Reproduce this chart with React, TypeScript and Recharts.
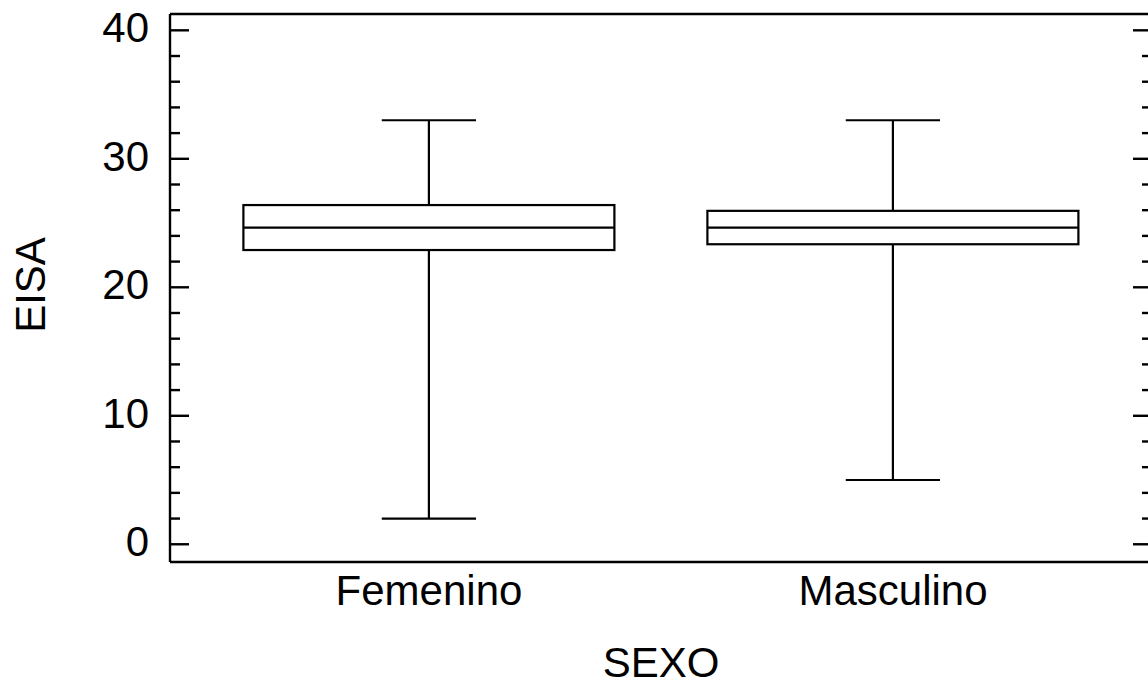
import React from 'react';
import { ComposedChart, Bar, XAxis, YAxis } from 'recharts';

const categories = ['Femenino', 'Masculino'];
const minValues = [2, 5];
const q1Values = [22.9, 23.35];
const medianValues = [24.65, 24.65];
const q3Values = [26.4, 25.95];
const maxValues = [33, 33];
const yTicks = [0, 2, 4, 6, 8, 10, 12, 14, 16, 18, 20, 22, 24, 26, 28, 30, 32, 34, 36, 38, 40];
const majorTicks = [0, 10, 20, 30, 40];

const FONT = '"Liberation Sans", Arial, sans-serif';

const data = categories.map((c, i) => ({
  category: c,
  min: minValues[i],
  q1: q1Values[i],
  median: medianValues[i],
  q3: q3Values[i],
  max: maxValues[i],
}));

const BoxShape = (props: any) => {
  const { x, y, width, height, payload } = props;
  const top = Math.min(y, y + height);
  const h = Math.abs(height);
  const { min, q1, median, q3, max } = payload;
  const pos = (v: number) => top + (h * (max - v)) / (max - min);
  const cx = x + width / 2;
  const capHalf = width * 0.127;
  const sw = 2.2;
  return (
    <g stroke="#000" strokeWidth={sw} fill="none">
      <line x1={cx} x2={cx} y1={pos(max)} y2={pos(q3)} />
      <line x1={cx} x2={cx} y1={pos(q1)} y2={pos(min)} />
      <line x1={cx - capHalf} x2={cx + capHalf} y1={pos(max)} y2={pos(max)} />
      <line x1={cx - capHalf} x2={cx + capHalf} y1={pos(min)} y2={pos(min)} />
      <rect x={x} y={pos(q3)} width={width} height={pos(q1) - pos(q3)} fill="#fff" />
      <line x1={x} x2={x + width} y1={pos(median)} y2={pos(median)} />
    </g>
  );
};

const LeftTick = (props: any) => {
  const { x, y, payload } = props;
  const major = majorTicks.includes(payload.value);
  const len = major ? 19 : 10;
  return (
    <g>
      <line x1={x} x2={x + len} y1={y} y2={y} stroke="#000" strokeWidth={2.4} />
      {major && (
        <text x={x - 21} y={y} dy={12} textAnchor="end" fontSize={42} fontFamily={FONT} fill="#000">
          {payload.value}
        </text>
      )}
    </g>
  );
};

const RightTick = (props: any) => {
  const { x, y, payload } = props;
  const major = majorTicks.includes(payload.value);
  const len = major ? 19 : 10;
  return <line x1={x} x2={x - len} y1={y} y2={y} stroke="#000" strokeWidth={2.4} />;
};

const YLabel = (props: any) => {
  const vb = props.viewBox || { x: 0, y: 14, width: 170, height: 548 };
  const lx = vb.x + 45;
  const ly = vb.y + vb.height / 2 - 3;
  return (
    <text
      x={lx}
      y={ly}
      textAnchor="middle"
      transform={`rotate(-90, ${lx}, ${ly})`}
      fontSize={42}
      fontFamily={FONT}
      fill="#000"
    >
      EISA
    </text>
  );
};

export default function App() {
  return (
    <div
      style={{
        position: 'fixed',
        left: 0,
        top: 0,
        width: 1148,
        height: 687,
        overflow: 'hidden',
        background: '#fff',
      }}
    >
      <ComposedChart
        width={1160}
        height={687}
        data={data}
        margin={{ top: 14, right: 8, bottom: 0, left: 0 }}
        barCategoryGap="10%"
      >
        <XAxis
          dataKey="category"
          height={125}
          padding={{ left: 27, right: 27 }}
          tickLine={false}
          tickSize={0}
          tickMargin={13}
          axisLine={{ stroke: '#000', strokeWidth: 2.4 }}
          tick={{ fontSize: 42, fill: '#000', fontFamily: FONT }}
          label={{ value: 'SEXO', position: 'insideBottom', offset: 10, fontSize: 42, fill: '#000', fontFamily: FONT }}
        />
        <XAxis
          xAxisId="top"
          dataKey="category"
          orientation="top"
          mirror
          tick={false}
          tickLine={false}
          axisLine={{ stroke: '#000', strokeWidth: 2.4 }}
        />
        <YAxis
          width={170}
          type="number"
          domain={[-1.38, 41.27]}
          allowDataOverflow
          ticks={yTicks}
          interval={0}
          tickLine={false}
          tickSize={0}
          tickMargin={0}
          tick={<LeftTick />}
          axisLine={{ stroke: '#000', strokeWidth: 2.4 }}
          label={YLabel}
        />
        <YAxis
          yAxisId="right"
          orientation="right"
          mirror
          type="number"
          domain={[-1.38, 41.27]}
          allowDataOverflow
          ticks={yTicks}
          interval={0}
          tickLine={false}
          tickSize={0}
          tickMargin={0}
          tick={<RightTick />}
          axisLine={{ stroke: '#000', strokeWidth: 2.4 }}
        />
        <Bar
          dataKey={(d: any) => [d.min, d.max]}
          shape={<BoxShape />}
          isAnimationActive={false}
        />
      </ComposedChart>
    </div>
  );
}
